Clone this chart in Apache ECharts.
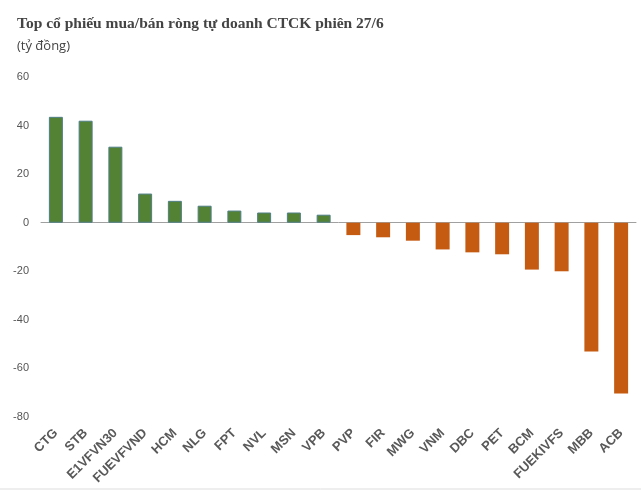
<!DOCTYPE html>
<html><head><meta charset="utf-8">
<script src="https://cdn.jsdelivr.net/npm/echarts@6/dist/echarts.min.js"></script>
<style>html,body{margin:0;padding:0;background:#fff}#c{width:641px;height:491px}</style>
</head><body><div id="c"></div>
<script>
var categories = ["CTG","STB","E1VFVN30","FUEVFVND","HCM","NLG","FPT","NVL","MSN","VPB","PVP","FIR","MWG","VNM","DBC","PET","BCM","FUEKIVFS","MBB","ACB"];
var values = [43.6,42,31.3,12,9,7,5,4.2,4.2,3.3,-5.1,-6,-7.4,-11,-12.2,-13,-19.3,-20,-53,-70.3];
var yTicks = {min:-80, max:60, interval:20};
var chart = echarts.init(document.getElementById('c'));
chart.setOption({
  animation:false,
  title:[
    {text:'Top cổ phiếu mua/bán ròng tự doanh CTCK phiên 27/6', left:12, top:11,
     textStyle:{fontFamily:'Liberation Serif', fontWeight:'bold', fontSize:15.5, color:'#444'}},
    {text:'(tỷ đồng)', left:12, top:35,
     textStyle:{fontFamily:'Open Sans', fontWeight:'normal', fontSize:13, color:'#444'}}
  ],
  grid:{left:41, right:5, top:77, bottom:74, containLabel:false},
  xAxis:{type:'category', data:categories,
    axisLine:{lineStyle:{color:'#a0a0a0'}}, axisTick:{show:false},
    axisLabel:{interval:0, rotate:45, fontFamily:'Liberation Sans', fontWeight:'bold', fontSize:13, color:'#595959', margin:14}
  },
  yAxis:{type:'value', min:yTicks.min, max:yTicks.max, interval:yTicks.interval,
    splitLine:{show:false}, axisLine:{show:false}, axisTick:{show:false},
    axisLabel:{fontFamily:'Liberation Sans', fontSize:11, color:'#555', margin:12}
  },
  series:[{type:'bar', data:values.map(function(v){
      return v>=0 ? {value:v, itemStyle:{color:'#548235', borderColor:'#4f7f86', borderWidth:1}}
                  : {value:v, itemStyle:{color:'#C55A11'}};
    }), barWidth:'47%'}],
  graphic:[{type:'line', shape:{x1:0,y1:489,x2:641,y2:489}, style:{stroke:'#ddd', lineWidth:1}}]
});
</script></body></html>
